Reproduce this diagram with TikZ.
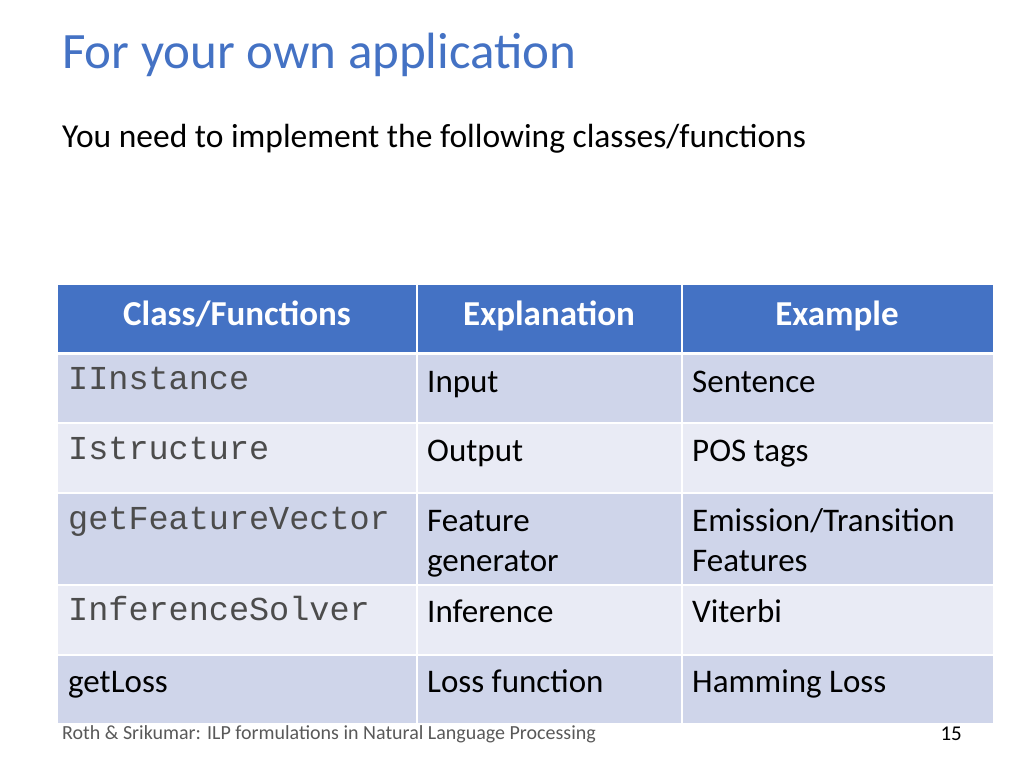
\documentclass[tikz,border=0pt]{standalone}
\usepackage{fontspec}
\setmainfont{Carlito}
\setmonofont{Liberation Mono}
\definecolor{hdr}{HTML}{4472C4}
\definecolor{dk}{HTML}{CFD5EA}
\definecolor{lt}{HTML}{E9EBF5}
\definecolor{ttl}{HTML}{4472C4}
\begin{document}
\begin{tikzpicture}[x=1pt,y=-1pt,
  txt/.style={anchor=base west,inner sep=0pt,font=\fontsize{33}{40}\selectfont},
  mono/.style={anchor=base west,inner sep=0pt,font=\ttfamily\fontsize{33.5}{40}\selectfont,text=black!70},
  head/.style={anchor=base,inner sep=0pt,text=white,font=\bfseries\fontsize{35}{40}\selectfont}]
\useasboundingbox (0,0) rectangle (1024,768);
\node[anchor=base west,inner sep=0pt,text=ttl,font=\fontsize{51}{60}\selectfont] (title) at (62,68) {For your own application};
\node[anchor=base west,inner sep=0pt,font=\fontsize{33.5}{40}\selectfont] (sub) at (62,147) {You need to implement the following classes/functions};
\foreach \ya/\yb/\c in {285/353/hdr,353/423/dk,423/493/lt,493/585/dk,585/655/lt,655/723/dk}{
  \fill[\c] (58,\ya) rectangle (993,\yb);}
\foreach \y in {353,423,493,585,655} \draw[white,line width=2pt] (58,\y) -- (993,\y);
\draw[white,line width=3pt] (58,353) -- (993,353);
\foreach \x in {417,682} \draw[white,line width=2pt] (\x,285) -- (\x,723);
\node[head] (h1) at (237,325) {Class/Functions};
\node[head] (h2) at (549,325) {Explanation};
\node[head] (h3) at (837,325) {Example};
\node[mono] (a1) at (68,389) {IInstance};
\node[mono] (a2) at (68,459) {Istructure};
\node[mono] (a3) at (68,529) {getFeatureVector};
\node[mono] (a4) at (68,620) {InferenceSolver};
\node[txt] (a5) at (68,692) {getLoss};
\node[txt] (b1) at (427,392) {Input};
\node[txt] (b2) at (427,461) {Output};
\node[txt] (b3) at (427,531) {Feature};
\node[txt] (b3b) at (427,571) {generator};
\node[txt] (b4) at (427,622) {Inference};
\node[txt] (b5) at (427,692) {Loss function};
\node[txt] (c1) at (692,392) {Sentence};
\node[txt] (c2) at (692,461) {POS tags};
\node[txt] (c3) at (692,531) {Emission/Transition};
\node[txt] (c3b) at (692,571) {Features};
\node[txt] (c4) at (692,622) {Viterbi};
\node[txt] (c5) at (692,692) {Hamming Loss};
\node[anchor=base west,inner sep=0pt,text=black!65,font=\fontsize{20}{24}\selectfont] (foot) at (62,739) {Roth \& Srikumar: ILP formulations in Natural Language Processing};
\node[anchor=base east,inner sep=0pt,font=\fontsize{21}{24}\selectfont] (pg) at (962,740) {15};
\end{tikzpicture}
\end{document}
